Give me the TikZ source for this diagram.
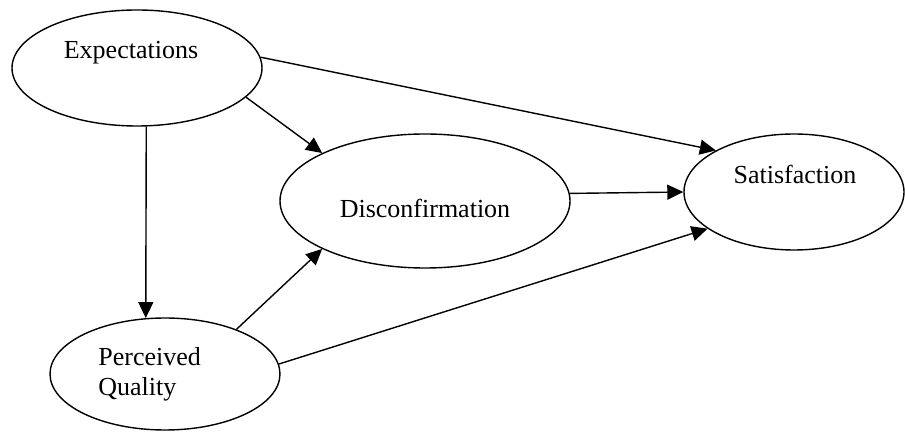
\documentclass[tikz,border=0pt]{standalone}
\usepackage{fontspec}
\setmainfont{Liberation Serif}
\usetikzlibrary{shapes.geometric,arrows.meta}
\tikzset{
    oval/.style={draw, ellipse, line width=0.7pt, inner sep=0pt},
    link/.style={line width=0.7pt, -{Triangle[length=8pt,width=7.5pt]}},
    lbl/.style={inner sep=0pt, font=\fontsize{13}{15}\selectfont}
}
\begin{document}
\begin{tikzpicture}[x=0.5pt, y=-0.5pt]
        \useasboundingbox (0, 0) rectangle (905, 432);

        \node[oval, minimum width=125pt, minimum height=58pt] (exp) at(137, 68){};
        \node[oval, minimum width=145pt, minimum height=67pt] (disc) at(425, 201){};
        \node[oval, minimum width=110pt, minimum height=58pt] (sat) at(794, 192){};
        \node[oval, minimum width=115pt, minimum height=56pt] (pq) at(165, 374){};

        \node[lbl] (expt) at(131, 53){Expectations};
        \node[lbl] (disct) at(425, 208){Disconfirmation};
        \node[lbl] (satt) at(795, 174){Satisfaction};
        \node[lbl, align=left, anchor=north west] (pqt) at(98, 347){Perceived\\Quality};

        \draw[link] (exp.-81) -- (pq.109);
        \draw[link] (exp.-15) -- (disc.155);
        \draw[link] (exp.5) -- (sat.152);
        \draw[link] (disc.3.6) -- (sat.180);
        \draw[link] (pq.32) -- (disc.205);
        \draw[link] (pq.5) -- (sat.203);
    \end{tikzpicture}
\end{document}
